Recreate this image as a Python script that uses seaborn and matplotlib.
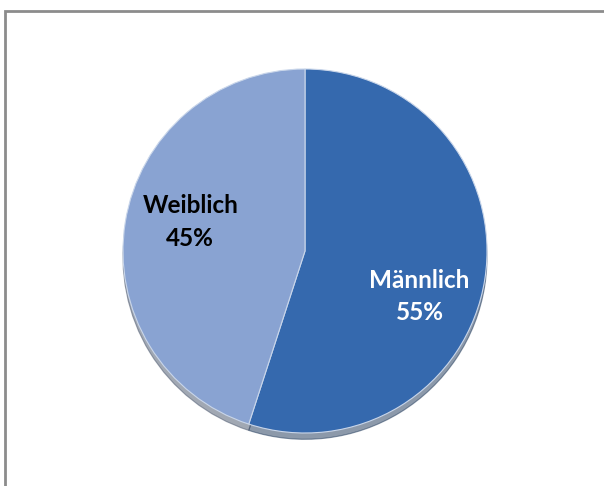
import matplotlib
matplotlib.use("Agg")
import matplotlib.pyplot as plt
from matplotlib.patches import Rectangle
import seaborn as sns

# Daten
labels = ["Männlich", "Weiblich"]
shares = [55, 45]
colors = ["#3569ae", "#89a3d2"]
text_colors = ["white", "black"]

sns.set_theme(style="white")
plt.rcParams["font.family"] = ["Lato", "DejaVu Sans"]

fig = plt.figure(figsize=(6.04, 4.86), dpi=100)
fig.patch.set_facecolor("white")

# Rahmen
fig.add_artist(Rectangle((5 / 604, -0.2), 2.0, 1.2 - 11 / 486,
                         transform=fig.transFigure, fill=False,
                         edgecolor="#8c8c8c", linewidth=2))

ax = fig.add_axes([123 / 604, 53 / 486, 364 / 604, 364 / 486])
wedges, _ = ax.pie(
    shares,
    colors=colors,
    startangle=90,
    counterclock=False,
    radius=1.0,
    shadow={"ox": 0.0, "oy": -0.025, "shade": 0.5},
    wedgeprops={"edgecolor": "#c9d6ea", "linewidth": 0.8},
)
ax.set_xlim(-1, 1)
ax.set_ylim(-1, 1)
ax.set_aspect("equal")
ax.axis("off")

# Beschriftung
label_pos = [(0.63, -0.25), (-0.63, 0.16)]
for lab, val, (x, y), tc in zip(labels, shares, label_pos, text_colors):
    ax.text(x, y, f"{lab}\n{val}%", ha="center", va="center",
            fontsize=17.5, fontweight="bold", color=tc, linespacing=1.5)

plt.savefig("out.png", dpi=100)
plt.close()
